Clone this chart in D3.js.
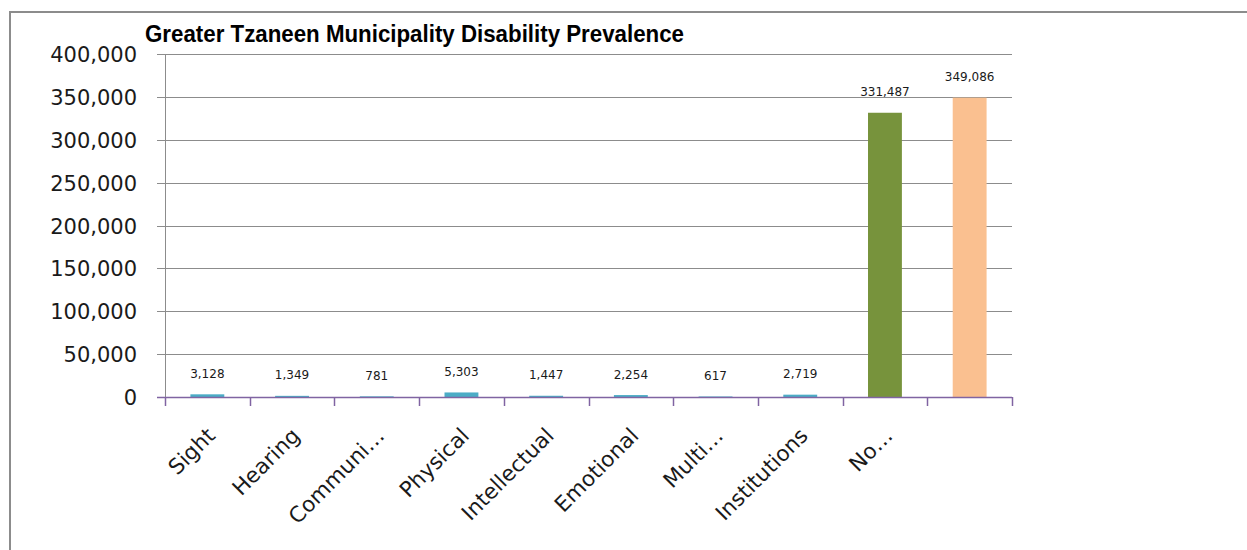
<!DOCTYPE html>
<html>
<head>
<meta charset="utf-8">
<script src="https://cdn.jsdelivr.net/npm/d3@7"></script>
<style>
  html, body { margin: 0; padding: 0; background: #fff; }
  svg { display: block; }
</style>
</head>
<body>
<svg id="chart"></svg>
<script>
// Greater Tzaneen disability prevalence
const categories = ['Sight', 'Hearing', 'Communi…', 'Physical', 'Intellectual', 'Emotional', 'Multi…', 'Institutions', 'No…', ''];
const values = [3128, 1349, 781, 5303, 1447, 2254, 617, 2719, 331487, 349086];
const barColors = ['#4BACC6', '#4BACC6', '#4BACC6', '#4BACC6', '#4BACC6', '#4BACC6', '#4BACC6', '#4BACC6', '#77933C', '#FAC090'];
const yTicks = [0, 50000, 100000, 150000, 200000, 250000, 300000, 350000, 400000];

const W = 1247;
const H = 550;
const plot = { left: 165, right: 1012, top: 54, bottom: 397 };
const FONT = '"DejaVu Sans", sans-serif';

const data = categories.map((c, i) => ({ cat: c, value: values[i], color: barColors[i] }));

const svg = d3.select('#chart').attr('width', W).attr('height', H);

// outer chart frame (only top and left edges visible in the crop)
svg.append('path')
  .attr('d', `M10,${H + 5}V12H${W + 5}`)
  .attr('fill', 'none')
  .attr('stroke', '#8c8c8c')
  .attr('stroke-width', 2);

const x = d3.scaleBand()
  .domain(categories)
  .range([plot.left, plot.right])
  .paddingInner(0.6)
  .paddingOuter(0.3);

const y = d3.scaleLinear().domain([0, 400000]).range([plot.bottom, plot.top]);

const fmt = d3.format(',');

// y ticks + labels
svg.append('g')
  .attr('transform', `translate(${plot.left},0)`)
  .call(d3.axisLeft(y).tickValues(yTicks).tickSize(8).tickFormat(fmt).tickPadding(20))
  .call((a) => a.select('.domain').remove())
  .call((a) => a.selectAll('line').attr('stroke', '#8c8c8c').attr('shape-rendering', 'crispEdges'))
  .call((a) => a.selectAll('text')
    .attr('fill', '#1a1a1a')
    .attr('font-family', FONT)
    .attr('font-size', 21)
    .attr('dy', '0.36em'));

// gridlines
svg.append('g')
  .selectAll('line')
  .data(yTicks.filter((d) => d > 0))
  .join('line')
  .attr('x1', plot.left)
  .attr('x2', plot.right)
  .attr('y1', (d) => Math.round(y(d)) + 0.5)
  .attr('y2', (d) => Math.round(y(d)) + 0.5)
  .attr('stroke', '#8c8c8c');

// y axis line
svg.append('line')
  .attr('x1', plot.left + 0.5)
  .attr('x2', plot.left + 0.5)
  .attr('y1', plot.top)
  .attr('y2', plot.bottom)
  .attr('stroke', '#8c8c8c');

// bars
svg.append('g')
  .selectAll('rect')
  .data(data)
  .join('rect')
  .attr('x', (d) => x(d.cat))
  .attr('width', x.bandwidth())
  .attr('y', (d) => y(d.value))
  .attr('height', (d) => y(0) - y(d.value))
  .attr('fill', (d) => d.color);

// x axis (purple) with boundary ticks
const step = x.step();
const bounds = d3.range(categories.length + 1).map((i) => plot.left + i * step);
svg.append('line')
  .attr('x1', plot.left - 8)
  .attr('x2', plot.right)
  .attr('y1', plot.bottom + 0.5)
  .attr('y2', plot.bottom + 0.5)
  .attr('stroke', '#8064A2')
  .attr('stroke-width', 1.5);
svg.append('g')
  .selectAll('line')
  .data(bounds)
  .join('line')
  .attr('x1', (d) => Math.round(d) + 0.5)
  .attr('x2', (d) => Math.round(d) + 0.5)
  .attr('y1', plot.bottom)
  .attr('y2', plot.bottom + 9)
  .attr('stroke', '#8064A2')
  .attr('stroke-width', 1.5);

// rotated category labels
svg.append('g')
  .selectAll('text')
  .data(data)
  .join('text')
  .attr('transform', (d) => `translate(${x(d.cat) + x.bandwidth() / 2 + 9},${plot.bottom + 40}) rotate(-45)`)
  .attr('text-anchor', 'end')
  .attr('fill', '#1a1a1a')
  .attr('font-family', FONT)
  .attr('font-size', 21.5)
  .text((d) => d.cat);

// value labels
svg.append('g')
  .selectAll('text')
  .data(data)
  .join('text')
  .attr('x', (d) => x(d.cat) + x.bandwidth() / 2)
  .attr('y', (d) => y(d.value) - 16.5)
  .attr('text-anchor', 'middle')
  .attr('fill', '#1a1a1a')
  .attr('font-family', FONT)
  .attr('font-size', 12)
  .text((d) => fmt(d.value));

// title
svg.append('text')
  .attr('x', 145)
  .attr('y', 42)
  .attr('fill', '#000')
  .attr('font-family', '"Liberation Sans Narrow", "Liberation Sans", sans-serif')
  .attr('font-weight', 700)
  .attr('font-size', 23)
  .attr('textLength', 539)
  .attr('lengthAdjust', 'spacingAndGlyphs')
  .text('Greater Tzaneen Municipality Disability Prevalence');
</script>
</body>
</html>
